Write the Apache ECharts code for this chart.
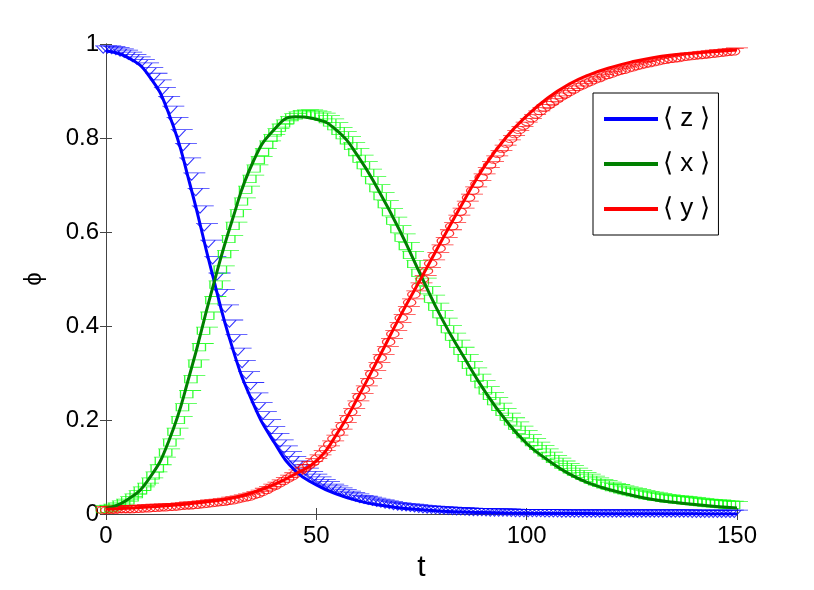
<!DOCTYPE html>
<html><head><meta charset="utf-8">
<script src="https://cdn.jsdelivr.net/npm/echarts@6/dist/echarts.min.js"></script>
<style>html,body{margin:0;padding:0;background:#fff}#c{width:814px;height:590px}</style>
</head><body><div id="c"></div>
<script>
// ---- Data ----
const xTicks = [0, 50, 100, 150];
const yTicks = [0, 0.2, 0.4, 0.6, 0.8, 1];
const seriesNames = ['⟨ z ⟩', '⟨ x ⟩', '⟨ y ⟩'];

// solid (mean-field) curves, sampled every 5 time units
const tLine = [0,5,10,15,20,25,30,35,40,45,50,55,60,65,70,75,80,85,90,95,100,105,110,115,120,125,130,135,140,145,150];
const zLine = [0.985,0.972,0.935,0.85,0.70,0.52,0.355,0.235,0.152,0.092,0.062,0.042,0.028,0.019,0.013,0.009,0.006,0.004,0.003,0.002,0.0015,0.001,0.001,0.0008,0.0006,0.0005,0.0004,0.0003,0.0003,0.0002,0.0002];
const xLine = [0.012,0.03,0.072,0.157,0.30,0.47,0.625,0.75,0.818,0.845,0.84,0.815,0.76,0.685,0.60,0.505,0.413,0.335,0.262,0.20,0.15,0.115,0.086,0.065,0.051,0.04,0.031,0.025,0.02,0.016,0.013];
const yLine = [0.01,0.012,0.015,0.018,0.022,0.027,0.034,0.046,0.063,0.085,0.113,0.172,0.25,0.335,0.422,0.503,0.585,0.665,0.74,0.80,0.847,0.885,0.914,0.935,0.95,0.962,0.971,0.977,0.981,0.984,0.987];

// simulation markers, every time unit (t = 0 .. 150)
const tMark = [0,1,2,3,4,5,6,7,8,9,10,11,12,13,14,15,16,17,18,19,20,21,22,23,24,25,26,27,28,29,
  30,31,32,33,34,35,36,37,38,39,40,41,42,43,44,45,46,47,48,49,50,51,52,53,54,55,56,57,58,59,
  60,61,62,63,64,65,66,67,68,69,70,71,72,73,74,75,76,77,78,79,80,81,82,83,84,85,86,87,88,89,
  90,91,92,93,94,95,96,97,98,99,100,101,102,103,104,105,106,107,108,109,110,111,112,113,114,115,116,117,118,119,
  120,121,122,123,124,125,126,127,128,129,130,131,132,133,134,135,136,137,138,139,140,141,142,143,144,145,146,147,148,149,150];
const zMark = [
  0.988,0.988,0.987,0.985,0.982,0.979,0.975,0.970,0.965,0.959,
  0.952,0.942,0.93,0.916,0.90,0.881,0.86,0.836,0.81,0.781,
  0.75,0.718,0.685,0.648,0.61,0.575,0.54,0.505,0.47,0.437,
  0.405,0.374,0.345,0.319,0.295,0.272,0.25,0.229,0.21,0.193,
  0.178,0.164,0.15,0.137,0.125,0.115,0.105,0.097,0.09,0.083,
  0.077,0.071,0.066,0.061,0.056,0.052,0.048,0.044,0.041,0.038,
  0.035,0.032,0.03,0.028,0.026,0.024,0.022,0.02,0.019,0.017,
  0.016,0.015,0.014,0.013,0.012,0.011,0.010,0.0095,0.009,0.0085,
  0.008,0.0075,0.007,0.0065,0.006,0.0055,0.005,0.0045,0.004,0.004,
  0.004,0.0035,0.003,0.003,0.003,0.003,0.003,0.0025,0.002,0.002,
  0.002,0.002,0.002,0.002,0.002,0.0015,0.0015,0.0015,0.0015,0.001,
  0.001,0.001,0.001,0.001,0.001,0.001,0.001,0.001,0.001,0.001,
  0.001,0.001,0.001,0.001,0.001,0.001,0.001,0.001,0.001,0.001,
  0.001,0.001,0.001,0.001,0.001,0.001,0.001,0.001,0.001,0.001,
  0.0005,0.0005,0.0005,0.0005,0.0005,0.0005,0.0005,0.0005,0.0005,0.0005,
  0.0005];
const xMark = [
  0.01,0.011,0.013,0.016,0.02,0.024,0.029,0.035,0.042,0.05,
  0.058,0.069,0.082,0.097,0.113,0.131,0.152,0.175,0.20,0.227,
  0.255,0.287,0.32,0.355,0.39,0.422,0.455,0.488,0.52,0.553,
  0.585,0.613,0.64,0.665,0.69,0.713,0.735,0.753,0.77,0.786,
  0.80,0.812,0.822,0.831,0.838,0.844,0.848,0.851,0.852,0.852,
  0.85,0.848,0.845,0.84,0.833,0.825,0.815,0.806,0.795,0.783,
  0.77,0.756,0.742,0.726,0.71,0.693,0.676,0.659,0.642,0.624,
  0.606,0.588,0.57,0.551,0.532,0.513,0.494,0.476,0.458,0.441,
  0.425,0.409,0.393,0.377,0.362,0.347,0.332,0.317,0.303,0.29,
  0.276,0.263,0.251,0.24,0.228,0.217,0.207,0.197,0.188,0.179,
  0.17,0.161,0.153,0.145,0.138,0.131,0.124,0.117,0.111,0.105,
  0.1,0.095,0.09,0.085,0.081,0.077,0.073,0.069,0.066,0.063,
  0.06,0.057,0.055,0.052,0.05,0.048,0.046,0.044,0.042,0.04,
  0.039,0.037,0.036,0.034,0.033,0.032,0.031,0.03,0.029,0.028,
  0.027,0.026,0.025,0.024,0.023,0.0225,0.022,0.021,0.02,0.0195,
  0.019];
const yMark = [
  0.008,0.008,0.009,0.009,0.01,0.01,0.01,0.01,0.011,0.011,
  0.012,0.012,0.013,0.013,0.014,0.014,0.015,0.015,0.016,0.017,
  0.018,0.018,0.019,0.02,0.021,0.022,0.023,0.024,0.025,0.026,
  0.028,0.029,0.031,0.033,0.035,0.037,0.04,0.043,0.047,0.051,
  0.056,0.06,0.065,0.07,0.075,0.08,0.086,0.092,0.098,0.104,
  0.11,0.118,0.127,0.137,0.148,0.16,0.173,0.187,0.202,0.217,
  0.233,0.249,0.265,0.281,0.298,0.315,0.332,0.349,0.366,0.383,
  0.4,0.417,0.434,0.45,0.467,0.484,0.5,0.517,0.533,0.549,
  0.565,0.581,0.597,0.612,0.628,0.643,0.658,0.673,0.688,0.702,
  0.716,0.729,0.742,0.754,0.766,0.777,0.788,0.798,0.808,0.817,
  0.826,0.834,0.842,0.85,0.857,0.864,0.87,0.876,0.882,0.888,
  0.893,0.898,0.903,0.908,0.912,0.916,0.92,0.924,0.927,0.931,
  0.934,0.937,0.94,0.943,0.945,0.948,0.95,0.953,0.955,0.957,
  0.959,0.961,0.963,0.965,0.966,0.968,0.969,0.97,0.972,0.973,
  0.974,0.975,0.976,0.977,0.978,0.979,0.98,0.981,0.982,0.983,
  0.984];

// ---- Chart ----
const pair = (ts, vs) => ts.map((t, i) => [t, vs[i]]);
const FONT = '"Liberation Sans", Arial, Helvetica, sans-serif';
const AX = '#444';

const triPath = 'path://M0,0 L10,0 L5,9 Z M-1,0 L15,0';
const sqPath = 'path://M0,0 L9,0 L9,9 L0,9 Z M-1,0 L15,0';
const cirPath = 'path://M9,4.5 A4.5,4.5 0 1 1 0,4.5 A4.5,4.5 0 1 1 9,4.5 Z M-1,0 L15,0';

function markSeries(data, color, sym) {
  return {
    type: 'scatter', data: data, symbol: sym, symbolSize: [22, 13], symbolKeepAspect: true,
    clip: false, silent: true, z: 2, large: false,
    itemStyle: { color: 'rgba(0,0,0,0)', borderColor: color, borderWidth: 1, opacity: 0.8 },
    emphasis: { disabled: true }
  };
}
function lineSeries(name, data, color, z) {
  return {
    name: name, type: 'line', data: data, smooth: 0.5, showSymbol: false, z: z,
    color: color, lineStyle: { color: color, width: 3 }, itemStyle: { color: color },
    emphasis: { disabled: true }, silent: true
  };
}

const axisCommon = {
  type: 'value', splitLine: { show: false },
  axisLine: { show: true, lineStyle: { color: AX, width: 1 } },
  axisTick: { show: true, inside: true, length: 6, lineStyle: { color: AX, width: 1 } }
};

const chart = echarts.init(document.getElementById('c'), null, { renderer: 'canvas' });
chart.setOption({
  animation: false,
  backgroundColor: '#fff',
  grid: { left: 106, right: 77, top: 44, bottom: 76, containLabel: false },
  legend: {
    data: seriesNames, orient: 'vertical', left: 593, top: 93,
    padding: [13, 8, 13, 11], itemWidth: 54, itemHeight: 4, itemGap: 19, icon: 'rect',
    borderColor: '#000', borderWidth: 1, backgroundColor: '#fff',
    textStyle: { fontSize: 26, lineHeight: 24, color: '#000', fontFamily: FONT },
    selectedMode: false
  },
  xAxis: [
    Object.assign({}, axisCommon, {
      position: 'bottom', min: xTicks[0], max: xTicks[xTicks.length - 1], interval: xTicks[1] - xTicks[0],
      name: 't', nameLocation: 'middle', nameGap: 39,
      nameTextStyle: { fontSize: 30, color: '#000', fontFamily: FONT },
      axisLabel: { fontSize: 24, color: '#000', fontFamily: FONT, margin: 10 }
    }),
    Object.assign({}, axisCommon, {
      position: 'top', min: xTicks[0], max: xTicks[xTicks.length - 1], interval: xTicks[1] - xTicks[0],
      axisLabel: { show: false }
    })
  ],
  yAxis: [
    Object.assign({}, axisCommon, {
      position: 'left', min: yTicks[0], max: yTicks[yTicks.length - 1], interval: yTicks[1] - yTicks[0],
      name: 'ϕ', nameLocation: 'middle', nameGap: 60,
      nameTextStyle: { fontSize: 24, color: '#000', fontFamily: FONT },
      axisLabel: { fontSize: 24, color: '#000', fontFamily: FONT, margin: 7 }
    }),
    Object.assign({}, axisCommon, {
      position: 'right', min: yTicks[0], max: yTicks[yTicks.length - 1], interval: yTicks[1] - yTicks[0],
      axisLabel: { show: false }
    })
  ],
  series: [
    markSeries(pair(tMark, zMark), '#0000ff', triPath),
    markSeries(pair(tMark, xMark), '#00ff00', sqPath),
    markSeries(pair(tMark, yMark), '#ff0000', cirPath),
    lineSeries(seriesNames[0], pair(tLine, zLine), '#0000ff', 5),
    lineSeries(seriesNames[1], pair(tLine, xLine), '#008000', 6),
    lineSeries(seriesNames[2], pair(tLine, yLine), '#ff0000', 7)
  ]
});
</script></body></html>
